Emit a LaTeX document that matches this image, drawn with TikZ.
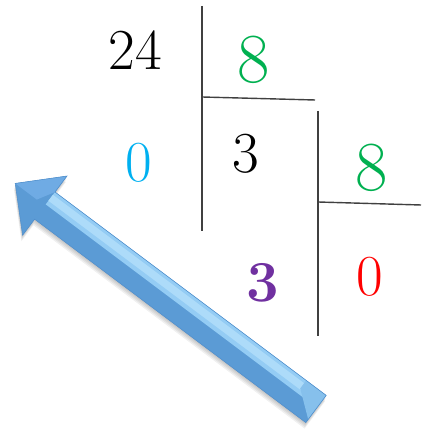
\documentclass[tikz,border=0pt]{standalone}
\usetikzlibrary{calc}
\definecolor{divgreen}{HTML}{00B050}
\definecolor{divcyan}{HTML}{00B0F0}
\definecolor{divred}{HTML}{FF0000}
\definecolor{divpurple}{HTML}{7030A0}
\definecolor{divline}{HTML}{404040}
\definecolor{arrowmid}{HTML}{5B9BD5}
\definecolor{arrowlight}{HTML}{94CCF4}
\definecolor{arrowpale}{HTML}{ADDBF9}
\definecolor{arrowhead}{HTML}{6FABE4}
\definecolor{arrowedge}{HTML}{4F8ECB}

\begin{document}
\begin{tikzpicture}[
    bar/.style={draw=divline, line width=0.8pt},
    num/.style={inner sep=0pt, font=\fontsize{33}{36}\selectfont},
    bignum/.style={num, font=\fontsize{40}{44}\selectfont},
    boldnum/.style={num, font=\fontsize{33}{36}\selectfont\bfseries},
    shadowpart/.style={fill=black, opacity=0.06}
  ]
  \useasboundingbox (0,0) rectangle (8.42,8.64);

  % division bars
  \coordinate (v1top) at (4.04,8.52);
  \coordinate (v1bot) at (4.04,4.02);
  \coordinate (h1left) at (4.04,6.70);
  \coordinate (h1right) at (6.30,6.64);
  \coordinate (v2top) at (6.36,6.42);
  \coordinate (v2bot) at (6.36,1.92);
  \coordinate (h2left) at (6.36,4.60);
  \coordinate (h2right) at (8.42,4.54);
  \draw[bar] (v1top) -- (v1bot);
  \draw[bar] (h1left) -- (h1right);
  \draw[bar] (v2top) -- (v2bot);
  \draw[bar] (h2left) -- (h2right);

  % numbers
  \node[num] (dividend) at (2.70,7.64) {24};
  \node[bignum, text=divgreen] (divisor) at (5.08,7.44) {8};
  \node[num, text=divcyan] (rest) at (2.78,5.38) {0};
  \node[num] (quotient) at (4.92,5.56) {3};
  \node[bignum, text=divgreen] (divisorb) at (7.44,5.28) {8};
  \node[boldnum, text=divpurple] (quotientb) at (5.26,2.98) {3};
  \node[num, text=divred] (restb) at (7.40,3.10) {0};

  % soft shadow of the arrow
  \foreach \d in {0.03,0.06,0.09,0.12} {
    \begin{scope}[shift={(6.32-0.2*\d,0.46-\d)}, rotate=143.13]
      \fill[shadowpart] (0,-0.34) -- (6.78,-0.34) -- (6.78,-0.74) -- (7.52,0)
        -- (6.78,0.74) -- (6.78,0.34) -- (0,0.34) -- cycle;
    \end{scope}
  }

  % arrow
  \begin{scope}[shift={(6.32,0.46)}, rotate=143.13]
    \fill[arrowmid] (0,-0.34) -- (6.78,-0.34) -- (6.78,-0.74) -- (7.52,0)
      -- (6.78,0.74) -- (6.78,0.34) -- (0,0.34) -- cycle;
    \fill[arrowlight] (0,-0.34) -- (6.78,-0.34) -- (6.78,-0.03) -- (0,-0.03) -- cycle;
    \fill[arrowpale] (0.4,-0.27) -- (6.78,-0.27) -- (6.78,-0.12) -- (0.4,-0.12) -- cycle;
    \fill[arrowhead] (7.52,0) -- (6.78,-0.74) -- (6.78,-0.34) -- (6.98,0) -- cycle;
    \fill[arrowlight!75!arrowmid] (0,-0.34) -- (0.5,-0.34) -- (0.5,-0.14) -- (0,0.26) -- cycle;
    \draw[arrowedge, line width=0.3pt] (0,-0.34) -- (6.78,-0.34) -- (6.78,-0.74) -- (7.52,0)
      -- (6.78,0.74) -- (6.78,0.34) -- (0,0.34) -- cycle;
  \end{scope}
\end{tikzpicture}
\end{document}
